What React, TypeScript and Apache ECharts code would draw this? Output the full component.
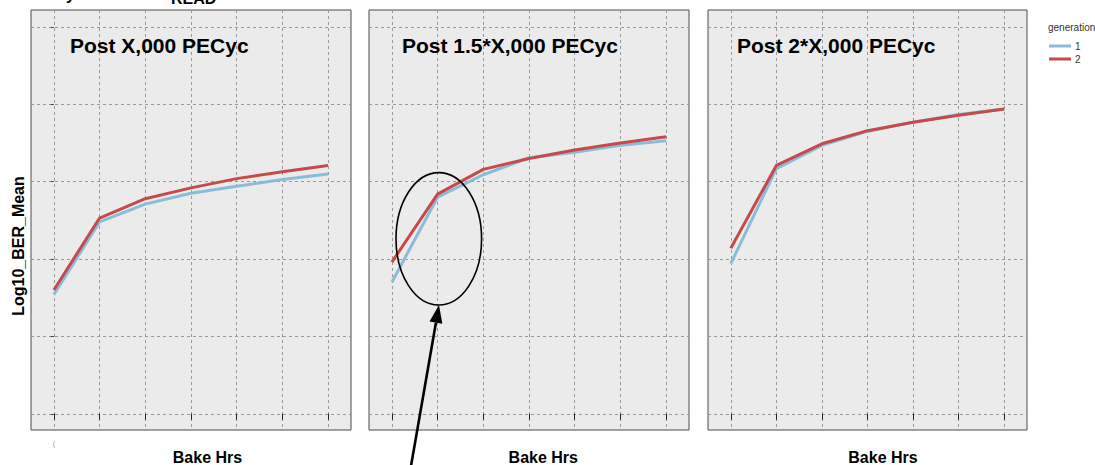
import React, { useEffect, useRef } from 'react';
import * as echarts from 'echarts';

// ---- data ----
const bakeSteps = [0, 1, 2, 3, 4, 5, 6];
const panelTitles = ['Post X,000 PECyc', 'Post 1.5*X,000 PECyc', 'Post 2*X,000 PECyc'];
const generations = ['1', '2'];
const gen1Panel1 = [1.54, 2.48, 2.71, 2.85, 2.94, 3.03, 3.1];
const gen2Panel1 = [1.6, 2.53, 2.78, 2.92, 3.04, 3.13, 3.21];
const gen1Panel2 = [1.7, 2.8, 3.09, 3.31, 3.38, 3.47, 3.53];
const gen2Panel2 = [1.96, 2.84, 3.16, 3.3, 3.41, 3.5, 3.58];
const gen1Panel3 = [1.94, 3.17, 3.47, 3.65, 3.77, 3.87, 3.94];
const gen2Panel3 = [2.14, 3.21, 3.49, 3.66, 3.77, 3.86, 3.94];
const yTickValues = [0, 1, 2, 3, 4, 5];
const xTickValues = bakeSteps;

const FONT = '"Liberation Sans", Arial, Helvetica, sans-serif';
const BLUE = '#8BBCD7';
const RED = '#C64A4C';

const panels = [
  { left: 31, width: 320, titleX: 70, xLabelX: 207.5, g1: gen1Panel1, g2: gen2Panel1 },
  { left: 369, width: 320, titleX: 402, xLabelX: 543.3, g1: gen1Panel2, g2: gen2Panel2 },
  { left: 708, width: 319, titleX: 737, xLabelX: 883, g1: gen1Panel3, g2: gen2Panel3 },
];

export default function App() {
  const ref = useRef<HTMLDivElement>(null);

  useEffect(() => {
    document.body.style.margin = '0';
    if (!ref.current) return;
    const chart = echarts.init(ref.current, undefined, { renderer: 'svg' });

    const grid = panels.map((p) => ({
      left: p.left,
      top: 10,
      width: p.width,
      height: 420,
      show: true,
      backgroundColor: '#EBEBEB',
      borderColor: '#4d4d4d',
      borderWidth: 1,
    }));

    const xAxis = panels.map((p, i) => ({
      type: 'value',
      gridIndex: i,
      min: -0.5,
      max: 6.5,
      splitNumber: 7,
      axisLine: { show: false },
      axisTick: {
        show: true,
        customValues: xTickValues,
        length: 6,
        inside: false,
        lineStyle: { color: '#222', width: 1 },
      },
      axisLabel: {
        show: i === 0,
        customValues: xTickValues,
        formatter: (v: number) => (v === 0 ? '(' : ''),
        color: '#aaa',
        fontSize: 8,
        margin: 9,
        fontFamily: FONT,
      },
      splitLine: { show: true, lineStyle: { color: '#999', type: [3, 3], width: 1 } },
    }));

    const yAxis = panels.map((p, i) => ({
      type: 'value',
      gridIndex: i,
      min: -0.21,
      max: 5.22,
      splitNumber: 5,
      axisLine: { show: false },
      axisTick: {
        show: i === 0,
        customValues: yTickValues,
        length: 3,
        lineStyle: { color: '#444', width: 1 },
      },
      axisLabel: { show: false, customValues: yTickValues },
      splitLine: { show: true, lineStyle: { color: '#999', type: [3, 3], width: 1 } },
    }));

    const series: any[] = [];
    panels.forEach((p, i) => {
      series.push({
        name: generations[0],
        type: 'line',
        xAxisIndex: i,
        yAxisIndex: i,
        data: bakeSteps.map((x, k) => [x, p.g1[k]]),
        symbol: 'none',
        lineStyle: { color: BLUE, width: 3 },
        itemStyle: { color: BLUE },
        z: 3,
      });
      series.push({
        name: generations[1],
        type: 'line',
        xAxisIndex: i,
        yAxisIndex: i,
        data: bakeSteps.map((x, k) => [x, p.g2[k]]),
        symbol: 'none',
        lineStyle: { color: RED, width: 3 },
        itemStyle: { color: RED },
        z: 4,
      });
    });

    // arrow geometry (annotation)
    const tip = [439, 305];
    const tail = [411, 466];
    const dx = tip[0] - tail[0];
    const dy = tip[1] - tail[1];
    const len = Math.sqrt(dx * dx + dy * dy);
    const ux = dx / len;
    const uy = dy / len;
    const headLen = 18;
    const headHalf = 6.5;
    const bx = tip[0] - ux * headLen;
    const by = tip[1] - uy * headLen;
    const px = -uy;
    const py = ux;

    const graphic: any[] = [
      // cut-off texts at the very top (as in the reference)
      {
        type: 'text',
        x: 171,
        y: -2,
        style: { text: 'READ', font: `bold 16px ${FONT}`, fill: '#000', align: 'left', verticalAlign: 'middle' },
      },
      {
        type: 'text',
        x: 66,
        y: -6,
        style: { text: 'y', font: `bold 16px ${FONT}`, fill: '#000', align: 'left', verticalAlign: 'middle' },
      },
      ...panels.map((p, i) => ({
        type: 'text',
        x: p.titleX,
        y: 45,
        z: 10,
        style: {
          text: panelTitles[i],
          font: `bold 21px ${FONT}`,
          fill: '#000',
          align: 'left',
          verticalAlign: 'middle',
        },
      })),
      ...panels.map((p) => ({
        type: 'text',
        x: p.xLabelX,
        y: 457,
        style: {
          text: 'Bake Hrs',
          font: `bold 16px ${FONT}`,
          fill: '#000',
          align: 'center',
          verticalAlign: 'middle',
        },
      })),
      {
        type: 'text',
        x: 18,
        y: 246,
        rotation: Math.PI / 2,
        style: {
          text: 'Log10_BER_Mean',
          font: `bold 16px ${FONT}`,
          fill: '#000',
          align: 'center',
          verticalAlign: 'middle',
        },
      },
      {
        type: 'text',
        x: 1048,
        y: 27,
        style: { text: 'generation', font: `10px ${FONT}`, fill: '#333', align: 'left', verticalAlign: 'middle' },
      },
      // annotation ellipse
      {
        type: 'ellipse',
        z: 20,
        shape: { cx: 438.8, cy: 238.8, rx: 42.8, ry: 66.2 },
        style: { fill: 'none', stroke: '#000', lineWidth: 1.6 },
      },
      // annotation arrow
      {
        type: 'line',
        z: 20,
        shape: { x1: tail[0], y1: tail[1], x2: bx, y2: by },
        style: { stroke: '#000', lineWidth: 2.6 },
      },
      {
        type: 'polygon',
        z: 20,
        shape: {
          points: [
            [tip[0], tip[1]],
            [bx + px * headHalf, by + py * headHalf],
            [bx - px * headHalf, by - py * headHalf],
          ],
        },
        style: { fill: '#000' },
      },
    ];

    chart.setOption({
      animation: false,
      backgroundColor: '#fff',
      textStyle: { fontFamily: FONT },
      grid,
      xAxis,
      yAxis,
      series,
      legend: {
        data: generations,
        orient: 'vertical',
        left: 1049,
        top: 40,
        icon: 'rect',
        itemWidth: 22,
        itemHeight: 3,
        itemGap: 1,
        padding: 0,
        textStyle: { fontSize: 10, color: '#333', fontFamily: FONT, lineHeight: 12, padding: [0, 0, 0, -1] },
      },
      graphic,
    });

    return () => chart.dispose();
  }, []);

  return <div ref={ref} style={{ width: 1095, height: 465 }} />;
}
